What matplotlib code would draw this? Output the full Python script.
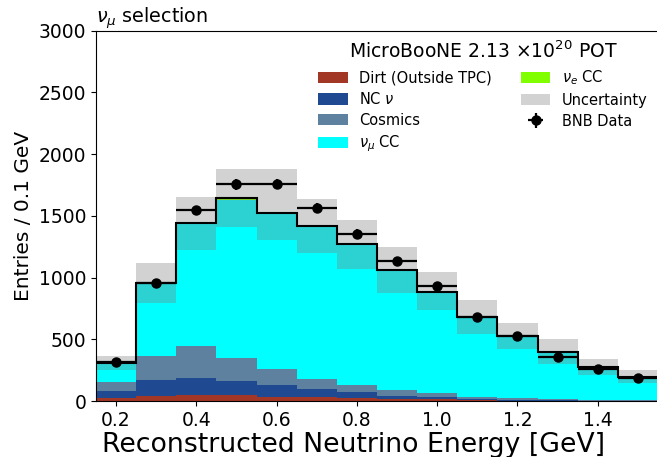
import numpy as np
import matplotlib
matplotlib.use("Agg")
import matplotlib.pyplot as plt

# Bin edges (GeV)
bin_edges = [0.15, 0.25, 0.35, 0.45, 0.55, 0.65, 0.75, 0.85, 0.95, 1.05, 1.15, 1.25, 1.35, 1.45, 1.55]

# Stacked MC components (entries per bin)
dirt    = [24, 41, 49, 46, 32, 31, 25, 16, 14, 5, 3, 2, 1, 1]
nc_nu   = [55, 127, 138, 114, 95, 64, 48, 22, 19, 9, 8, 5, 3, 2]
cosmics = [75, 194, 259, 186, 130, 81, 54, 49, 29, 16, 14, 8, 4, 3]
numu_cc = [155, 589, 985, 1285, 1260, 1231, 1138, 966, 820, 647, 502, 383, 266, 188]
nue_cc  = [2, 6, 10, 12, 10, 9, 8, 7, 5, 4, 3, 2, 2, 1]

# Uncertainty band (up / down)
unc_up   = [52, 158, 211, 236, 352, 219, 192, 186, 157, 135, 100, 100, 62, 54]
unc_down = [60, 160, 217, 232, 224, 216, 205, 187, 149, 138, 111, 100, 68, 46]

# BNB data
data = [316, 960, 1544, 1755, 1757, 1562, 1356, 1133, 930, 679, 527, 357, 257, 190]

x_ticks = [0.2, 0.4, 0.6, 0.8, 1.0, 1.2, 1.4]
y_ticks = [0, 500, 1000, 1500, 2000, 2500, 3000]

edges = np.array(bin_edges)
centers = 0.5 * (edges[:-1] + edges[1:])
width = edges[1:] - edges[:-1]

fig = plt.figure(figsize=(6.57, 4.57), dpi=100)
ax = fig.add_axes([0.1461, 0.1225, 0.8554, 0.8103])

components = [
    (dirt, '#a33726', 'Dirt (Outside TPC)'),
    (nc_nu, '#1f4a91', r'NC $\nu$'),
    (cosmics, '#5e81a0', 'Cosmics'),
    (numu_cc, '#00ffff', r'$\nu_\mu$ CC'),
    (nue_cc, '#7fff00', r'$\nu_e$ CC'),
]
bottom = np.zeros(len(centers))
handles = []
for vals, col, lab in components:
    h = ax.bar(centers, vals, width=width, bottom=bottom, color=col,
               edgecolor='none', linewidth=0, label=lab)
    handles.append(h)
    bottom = bottom + np.array(vals)
total = bottom

up = np.array(unc_up)
dn = np.array(unc_down)
hu = ax.bar(centers, up + dn, width=width, bottom=total - dn, color='grey',
            alpha=0.35, edgecolor='none', linewidth=0, label='Uncertainty')
handles.append(hu)

ax.stairs(total, edges, color='black', linewidth=1.5, baseline=None)

dv = np.array(data)
hd = ax.errorbar(centers, dv, xerr=width / 2, yerr=np.sqrt(dv), fmt='o',
                 color='black', markersize=6.5, elinewidth=1.6, capsize=0,
                 label='BNB Data')
handles.append(hd)

ax.set_xlim(0.15, 1.55)
ax.set_ylim(0, 3000)
ax.set_xticks(x_ticks)
ax.set_yticks(y_ticks)
ax.tick_params(axis='both', labelsize=13.5)
ax.set_xlabel('Reconstructed Neutrino Energy [GeV]', fontsize=19.3)
ax.xaxis.set_label_coords(0.459, -0.085)
ax.set_ylabel('Entries / 0.1 GeV', fontsize=14.5)
ax.set_title(r'$\nu_\mu$ selection', loc='left', fontsize=13.8, pad=2)

leg = ax.legend(handles=handles, ncol=2, loc='upper right', frameon=False,
                fontsize=10.5, title=r'MicroBooNE 2.13 $\times 10^{20}$ POT',
                title_fontsize=13.5, borderaxespad=0.3, columnspacing=2.0,
                handleheight=0.8, labelspacing=0.4)

fig.savefig('out.png', dpi=100)
